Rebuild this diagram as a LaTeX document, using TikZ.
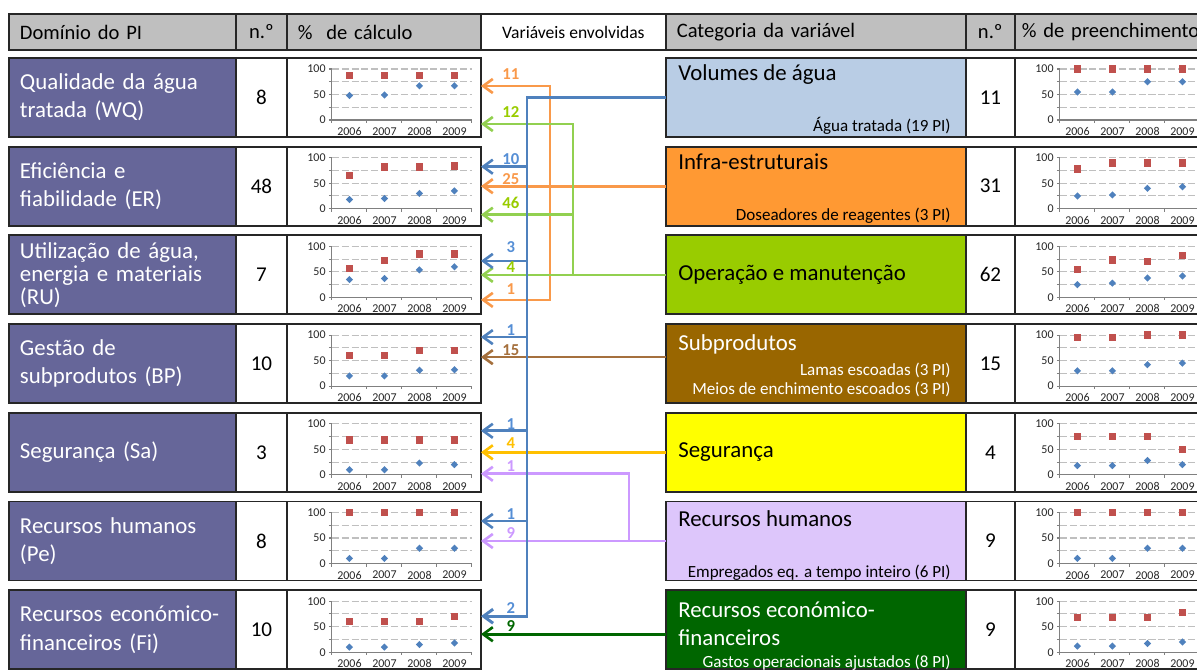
\documentclass[tikz,border=0pt]{standalone}
\usepackage{fontspec}
\setmainfont{Carlito}
\usetikzlibrary{arrows.meta,positioning,calc,shapes.geometric}
\definecolor{domfill}{HTML}{666699}
\definecolor{hdrfill}{HTML}{BFBFBF}
\definecolor{cvol}{HTML}{B9CDE5}
\definecolor{cinf}{HTML}{FF9933}
\definecolor{cope}{HTML}{99CC00}
\definecolor{csub}{HTML}{996600}
\definecolor{cseg}{HTML}{FFFF00}
\definecolor{chum}{HTML}{DDC6FB}
\definecolor{ceco}{HTML}{006600}
\definecolor{sqred}{HTML}{C0504D}
\definecolor{diablue}{HTML}{4F81BD}
\definecolor{blln}{HTML}{4F81BD}
\definecolor{bllb}{HTML}{558ED5}
\definecolor{orln}{HTML}{F9994A}
\definecolor{grln}{HTML}{92D050}
\definecolor{grlb}{HTML}{99CC00}
\definecolor{brln}{HTML}{A5703D}
\definecolor{yeln}{HTML}{FFC000}
\definecolor{puln}{HTML}{CC99FF}
\definecolor{dgln}{HTML}{006600}
\tikzset{
  cell/.style   ={draw=black!85, line width=1.1pt, inner sep=0pt, outer sep=0pt,
                  minimum height=1.58cm},
  hdr/.style    ={cell, fill=hdrfill, minimum height=0.72cm, font=\fontsize{11.7}{13}\selectfont},
  dom/.style    ={cell, fill=domfill, text=white, anchor=north west, minimum width=4.54cm,
                  text width=4.1cm, align=left, font=\fontsize{13}{16}\selectfont},
  numc/.style   ={cell, fill=white, minimum width=1.02cm, font=\fontsize{12}{14}\selectfont},
  plotc/.style  ={cell, fill=white, minimum width=3.88cm},
  cat/.style    ={cell, anchor=north west, minimum width=6cm},
  cattl/.style  ={inner sep=0pt, anchor=base west, font=\fontsize{13}{16}\selectfont},
  catsub/.style ={inner sep=0pt, anchor=base east, font=\fontsize{9.7}{11}\selectfont},
  gridln/.style ={draw=black!25, line width=0.6pt, dash pattern=on 4pt off 1.6pt},
  axln/.style   ={draw=black!50, line width=0.6pt},
  tck/.style    ={font=\fontsize{6.8}{7.5}\selectfont, inner sep=0pt, text=black!85},
  redsq/.style  ={fill=sqred, inner sep=0pt, minimum size=0.15cm},
  bluedia/.style={diamond, fill=diablue, inner sep=0pt, minimum size=0.15cm},
  conn/.style   ={draw=#1, line width=1.5pt},
  ar/.style     ={conn=#1, -{Straight Barb[length=5.5pt,width=8pt]}},
  lbl/.style    ={font=\bfseries\fontsize{9.5}{11}\selectfont, text=#1, inner sep=0pt},
}
% small scatter chart drawn inside a cell: #1 cell, #2 red values, #3 blue values
\newcommand{\pctchart}[3]{%
  \begin{scope}[shift={(#1.north west)}]
    \foreach \g in {25,50,75,100}
      \draw[gridln] (45,{62-0.51*\g}) -- (185,{62-0.51*\g});
    \foreach \g in {0,25,50,75,100}
      \draw[axln] (42,{62-0.51*\g}) -- (45,{62-0.51*\g});
    \foreach \xx in {45,80,115,150,185}
      \draw[axln] (\xx,62) -- (\xx,65);
    \draw[axln] (45,11) -- (45,62) -- (185,62);
    \foreach \g in {0,50,100}
      \node[tck, anchor=east] (#1v\g) at (39,{62-0.51*\g}) {\g};
    \foreach \yr [count=\i] in {2006,2007,2008,2009}
      \node[tck] (#1y\i) at ({27.5+35*\i},73.5) {\yr};
    \foreach \v [count=\i] in {#2}
      \node[redsq] (#1r\i) at ({27.5+35*\i},{62-0.51*\v}) {};
    \foreach \v [count=\i] in {#3}
      \node[bluedia] (#1b\i) at ({27.5+35*\i},{62-0.51*\v}) {};
  \end{scope}}

\begin{document}
\begin{tikzpicture}[x=0.02cm, y=-0.02cm]
\useasboundingbox (0,0) rectangle (1197,670);
\clip (0,0) rectangle (1197,670);

% header row
\node[hdr, anchor=north west, minimum width=4.54cm, text width=4.1cm, align=left] (h1) at (9,14) {Domínio do PI};
\node[hdr, minimum width=1.02cm, right=0pt of h1] (h2) {n.º};
\node[hdr, minimum width=3.88cm, text width=3.44cm, align=left, right=0pt of h2] (h3) {\%\ \ de cálculo};
\node[hdr, fill=white, minimum width=3.7cm, font=\fontsize{10}{12}\selectfont, right=0pt of h3] (h4) {Variáveis envolvidas};
\node[hdr, minimum width=6cm, text width=5.56cm, align=left, right=0pt of h4] (h5) {Categoria da variável};
\node[hdr, minimum width=0.98cm, right=0pt of h5] (h6) {n.º};
\node[hdr, minimum width=3.88cm, text width=3.6cm, align=left, right=0pt of h6] (h7) {\% de preenchimento};

% left side: PI domains
\node[dom] (d1) at (9,58) {Qualidade da água\\tratada (WQ)};
\node[numc, right=0pt of d1] (n1) {8};
\node[plotc, right=0pt of n1] (p1) {};
\node[dom] (d2) at (9,146.7) {Eficiência e\\fiabilidade (ER)};
\node[numc, right=0pt of d2] (n2) {48};
\node[plotc, right=0pt of n2] (p2) {};
\node[dom, font=\fontsize{13}{13.2}\selectfont] (d3) at (9,235.4) {Utilização de água,\\energia e materiais\\(RU)};
\node[numc, right=0pt of d3] (n3) {7};
\node[plotc, right=0pt of n3] (p3) {};
\node[dom] (d4) at (9,324.1) {Gestão de\\subprodutos (BP)};
\node[numc, right=0pt of d4] (n4) {10};
\node[plotc, right=0pt of n4] (p4) {};
\node[dom] (d5) at (9,412.8) {Segurança (Sa)};
\node[numc, right=0pt of d5] (n5) {3};
\node[plotc, right=0pt of n5] (p5) {};
\node[dom] (d6) at (9,501.5) {Recursos humanos\\(Pe)};
\node[numc, right=0pt of d6] (n6) {8};
\node[plotc, right=0pt of n6] (p6) {};
\node[dom] (d7) at (9,590.2) {\mbox{Recursos económico-}\\financeiros (Fi)};
\node[numc, right=0pt of d7] (n7) {10};
\node[plotc, right=0pt of n7] (p7) {};

% right side: variable categories
\node[cat, fill=cvol] (c1) at (666,58) {};
\node[numc, minimum width=0.98cm, right=0pt of c1] (m1) {11};
\node[plotc, right=0pt of m1] (q1) {};
\node[cat, fill=cinf] (c2) at (666,146.7) {};
\node[numc, minimum width=0.98cm, right=0pt of c2] (m2) {31};
\node[plotc, right=0pt of m2] (q2) {};
\node[cat, fill=cope] (c3) at (666,235.4) {};
\node[numc, minimum width=0.98cm, right=0pt of c3] (m3) {62};
\node[plotc, right=0pt of m3] (q3) {};
\node[cat, fill=csub] (c4) at (666,324.1) {};
\node[numc, minimum width=0.98cm, right=0pt of c4] (m4) {15};
\node[plotc, right=0pt of m4] (q4) {};
\node[cat, fill=cseg] (c5) at (666,412.8) {};
\node[numc, minimum width=0.98cm, right=0pt of c5] (m5) {4};
\node[plotc, right=0pt of m5] (q5) {};
\node[cat, fill=chum] (c6) at (666,501.5) {};
\node[numc, minimum width=0.98cm, right=0pt of c6] (m6) {9};
\node[plotc, right=0pt of m6] (q6) {};
\node[cat, fill=ceco] (c7) at (666,590.2) {};
\node[numc, minimum width=0.98cm, right=0pt of c7] (m7) {9};
\node[plotc, right=0pt of m7] (q7) {};

% category titles and details
\node[cattl] (t1) at ($(c1.north west)+(12,22)$) {Volumes de água};
\node[catsub] (s1) at ($(c1.north east)+(-15,73)$) {Água tratada (19 PI)};
\node[cattl] (t2) at ($(c2.north west)+(12,23)$) {Infra-estruturais};
\node[catsub] (s2) at ($(c2.north east)+(-15,74)$) {Doseadores de reagentes (3 PI)};
\node[cattl, anchor=west] (t3) at ($(c3.west)+(12,0)$) {Operação e manutenção};
\node[cattl, text=white] (t4) at ($(c4.north west)+(12,26)$) {Subprodutos};
\node[catsub, text=white] (s4a) at ($(c4.north east)+(-15,51)$) {Lamas escoadas (3 PI)};
\node[catsub, text=white] (s4b) at ($(c4.north east)+(-15,70)$) {Meios de enchimento escoados (3 PI)};
\node[cattl, anchor=west] (t5) at ($(c5.west)+(12,0)$) {Segurança};
\node[cattl] (t6) at ($(c6.north west)+(12,25)$) {Recursos humanos};
\node[catsub] (s6) at ($(c6.north east)+(-15,76)$) {Empregados eq. a tempo inteiro (6 PI)};
\node[cattl, text=white] (t7a) at ($(c7.north west)+(12,27)$) {Recursos económico-};
\node[cattl, text=white] (t7b) at ($(c7.north west)+(12,55)$) {financeiros};
\node[catsub, text=white] (s7) at ($(c7.north east)+(-15,77)$) {Gastos operacionais ajustados (8 PI)};

% charts
\pctchart{p1}{87,87,87,87}{48,49,67,67}
\pctchart{p2}{65,82,82,84}{18,20,30,35}
\pctchart{p3}{57,72,85,85}{35,37,54,60}
\pctchart{p4}{60,60,70,70}{20,20,31,32}
\pctchart{p5}{68,68,68,68}{10,10,23,20}
\pctchart{p6}{100,100,100,100}{10,10,30,30}
\pctchart{p7}{60,60,60,70}{10,10,15,18}
\pctchart{q1}{100,100,100,100}{55,55,75,75}
\pctchart{q2}{78,90,90,90}{25,27,40,43}
\pctchart{q3}{55,73,70,82}{25,28,38,42}
\pctchart{q4}{95,95,100,100}{30,30,42,45}
\pctchart{q5}{75,75,75,50}{18,18,28,20}
\pctchart{q6}{100,100,100,100}{10,10,30,30}
\pctchart{q7}{68,68,68,78}{12,12,17,20}

% arrow ends on the chart cells
\coordinate (a11) at ($(p1.north east)+(0,28)$);
\coordinate (a12) at ($(p1.north east)+(0,66)$);
\coordinate (a10) at ($(p2.north east)+(0,20)$);
\coordinate (a25) at (p2.east);
\coordinate (a46) at ($(p2.north east)+(0,68)$);
\coordinate (a3b) at ($(p3.north east)+(0,25.5)$);
\coordinate (a4g) at (p3.east);
\coordinate (a1o) at ($(p3.north east)+(0,64.5)$);
\coordinate (a1b4) at ($(p4.north east)+(0,13)$);
\coordinate (a15) at ($(p4.north east)+(0,33)$);
\coordinate (a1b5) at ($(p5.north east)+(0,18)$);
\coordinate (a4y) at (p5.east);
\coordinate (a1p) at ($(p5.north east)+(0,61)$);
\coordinate (a1b6) at ($(p6.north east)+(0,19.5)$);
\coordinate (a9p) at (p6.east);
\coordinate (a2b) at ($(p7.north east)+(0,26)$);
\coordinate (a9g) at ($(p7.north east)+(0,44)$);
% vertical runs
\coordinate (jb) at (527,0);
\coordinate (jo) at (550,0);
\coordinate (jg) at (573,0);
\coordinate (jp) at (629,0);

% connectors
\draw[ar=orln] (c2.west) -- (a25);
\draw[ar=orln] (jo |- a25) |- (a11);
\draw[ar=orln] (jo |- a25) |- (a1o);
\draw[ar=grln] (c3.west) -- (a4g);
\draw[ar=grln] (jg |- a4g) |- (a12);
\draw[ar=grln] (jg |- a4g) |- (a46);
\draw[ar=brln] (c4.west |- a15) -- (a15);
\draw[ar=yeln] (c5.west) -- (a4y);
\draw[ar=puln] (c6.west) -- (a9p);
\draw[ar=puln] (jp |- a9p) |- (a1p);
\draw[ar=dgln] (c7.west |- a9g) -- (a9g);
\draw[ar=blln, line width=1.7pt] (c1.west) -| (jb |- a2b) -- (a2b);
\draw[ar=blln] (jb |- a10) -- (a10);
\draw[ar=blln] (jb |- a3b) -- (a3b);
\draw[ar=blln] (jb |- a1b4) -- (a1b4);
\draw[ar=blln] (jb |- a1b5) -- (a1b5);
\draw[ar=blln] (jb |- a1b6) -- (a1b6);

% counts
\node[lbl=orln] (l11) at ($(a11)+(30,-12)$) {11};
\node[lbl=grlb] (l12) at ($(a12)+(30,-12)$) {12};
\node[lbl=bllb] (l10) at ($(a10)+(30,-8)$) {10};
\node[lbl=orln] (l25) at ($(a25)+(30,-7)$) {25};
\node[lbl=grlb] (l46) at ($(a46)+(30,-12)$) {46};
\node[lbl=bllb] (l3b) at ($(a3b)+(30,-14)$) {3};
\node[lbl=grlb] (l4g) at ($(a4g)+(30,-8)$) {4};
\node[lbl=orln] (l1o) at ($(a1o)+(30,-11)$) {1};
\node[lbl=bllb] (l1b4) at ($(a1b4)+(30,-7)$) {1};
\node[lbl=brln] (l15) at ($(a15)+(30,-7)$) {15};
\node[lbl=bllb] (l1b5) at ($(a1b5)+(30,-7)$) {1};
\node[lbl=yeln] (l4y) at ($(a4y)+(30,-9)$) {4};
\node[lbl=puln] (l1p) at ($(a1p)+(30,-8)$) {1};
\node[lbl=bllb] (l1b6) at ($(a1b6)+(30,-7)$) {1};
\node[lbl=puln] (l9p) at ($(a9p)+(30,-8)$) {9};
\node[lbl=bllb] (l2b) at ($(a2b)+(30,-8)$) {2};
\node[lbl=dgln] (l9g) at ($(a9g)+(30,-8)$) {9};
\end{tikzpicture}
\end{document}
